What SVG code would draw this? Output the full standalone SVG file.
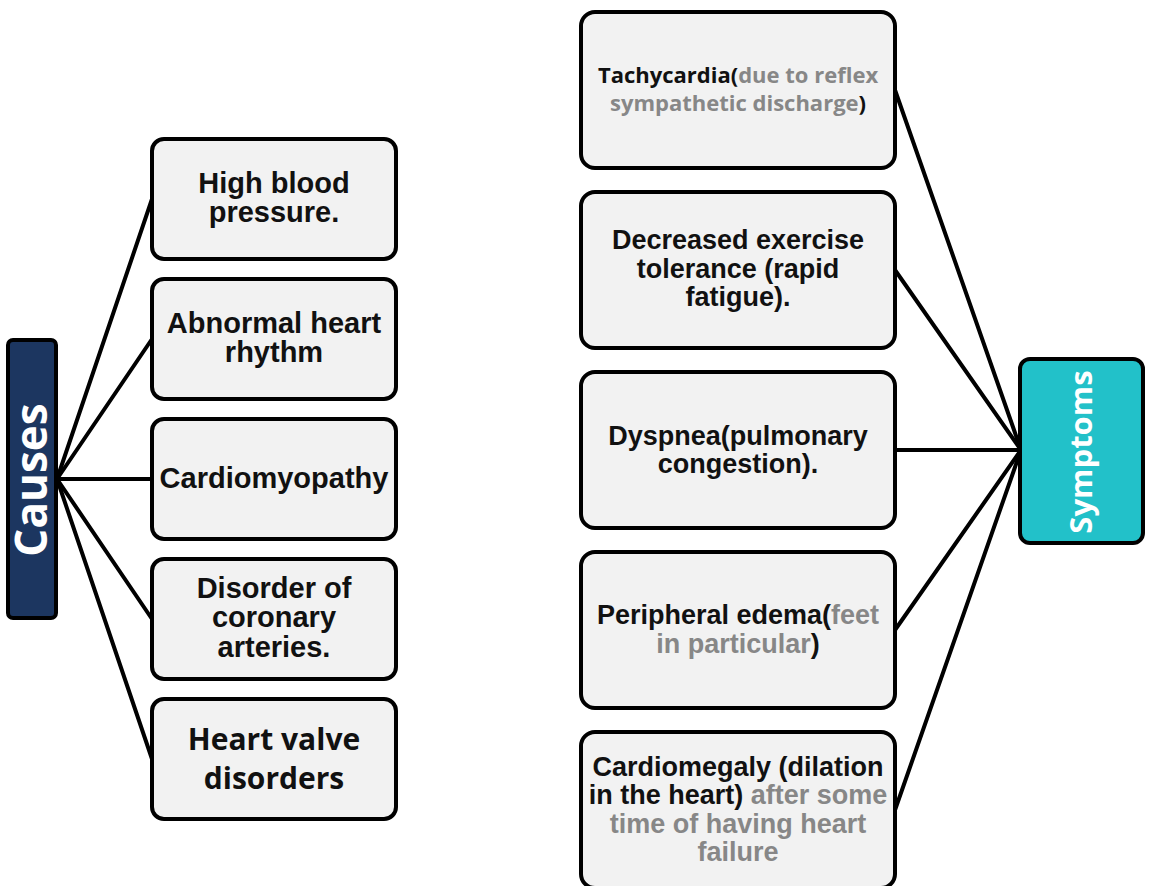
<svg xmlns="http://www.w3.org/2000/svg" width="1150" height="886" viewBox="0 0 1150 886">
<style>
.box{fill:#f2f2f2;stroke:#000;stroke-width:4}
.t{font-family:"Liberation Sans",Arial,sans-serif;font-weight:bold;font-size:27px;fill:#111;text-anchor:middle}
.l{font-size:29px}
.c{font-family:"Open Sans","Liberation Sans",sans-serif;font-weight:bold;text-anchor:middle;fill:#111}
.g{fill:#878787}
.w{fill:#fff}
.ln{stroke:#000;stroke-width:4;fill:none;stroke-linecap:round}
</style>
<rect width="1150" height="886" fill="#fff"/>
<g id="connectors" class="ln">
<line x1="57" y1="479" x2="152" y2="199"/>
<line x1="57" y1="479" x2="152" y2="339"/>
<line x1="57" y1="479" x2="152" y2="479"/>
<line x1="57" y1="479" x2="152" y2="619"/>
<line x1="57" y1="479" x2="152" y2="759"/>
<line x1="1021" y1="450" x2="895" y2="90"/>
<line x1="1021" y1="450" x2="895" y2="270"/>
<line x1="1021" y1="450" x2="895" y2="450"/>
<line x1="1021" y1="450" x2="895" y2="630"/>
<line x1="1021" y1="450" x2="895" y2="810"/>
</g>
<g id="causes">
<rect x="8" y="340" width="48" height="278" rx="5" fill="#1c3660" stroke="#000" stroke-width="4"/>
<text class="c w" font-size="44" transform="translate(47,480) rotate(-90)">Causes</text>
</g>
<g id="symptoms">
<rect x="1020" y="359" width="123" height="184" rx="10" fill="#22c1c9" stroke="#000" stroke-width="4"/>
<text class="c w" font-size="31" transform="translate(1092,452) rotate(-90)">Symptoms</text>
</g>
<g id="c1"><rect class="box" x="152" y="139" width="244" height="120" rx="12"/>
<text class="t l" x="274" y="193">High blood</text><text class="t l" x="274" y="222">pressure.</text></g>
<g id="c2"><rect class="box" x="152" y="279" width="244" height="120" rx="12"/>
<text class="t l" x="274" y="333">Abnormal heart</text><text class="t l" x="274" y="362">rhythm</text></g>
<g id="c3"><rect class="box" x="152" y="419" width="244" height="120" rx="12"/>
<text class="t l" x="274" y="488">Cardiomyopathy</text></g>
<g id="c4"><rect class="box" x="152" y="559" width="244" height="120" rx="12"/>
<text class="t l" x="274" y="598">Disorder of</text><text class="t l" x="274" y="627">coronary</text><text class="t l" x="274" y="657">arteries.</text></g>
<g id="c5"><rect class="box" x="152" y="699" width="244" height="120" rx="12"/>
<text class="c" font-size="30" x="274" y="750">Heart valve</text><text class="c" font-size="30" x="274" y="789">disorders</text></g>
<g id="s1"><rect class="box" x="581" y="12" width="314" height="156" rx="14"/>
<text class="c" font-size="22" x="738" y="83">Tachycardia(<tspan class="g">due to reflex</tspan></text>
<text class="c" font-size="22" x="738" y="111"><tspan class="g">sympathetic discharge</tspan>)</text></g>
<g id="s2"><rect class="box" x="581" y="192" width="314" height="156" rx="14"/>
<text class="t" x="738" y="249">Decreased exercise</text><text class="t" x="738" y="278">tolerance (rapid</text><text class="t" x="738" y="306">fatigue).</text></g>
<g id="s3"><rect class="box" x="581" y="372" width="314" height="156" rx="14"/>
<text class="t" x="738" y="445">Dyspnea(pulmonary</text><text class="t" x="738" y="473">congestion).</text></g>
<g id="s4"><rect class="box" x="581" y="552" width="314" height="156" rx="14"/>
<text class="t" x="738" y="624">Peripheral edema(<tspan class="g">feet</tspan></text><text class="t" x="738" y="653"><tspan class="g">in particular</tspan>)</text></g>
<g id="s5"><rect class="box" x="581" y="732" width="314" height="156" rx="14"/>
<text class="t" x="738" y="776">Cardiomegaly (dilation</text><text class="t" x="738" y="804">in the heart) <tspan class="g">after some</tspan></text><text class="t g" x="738" y="833">time of having heart</text><text class="t g" x="738" y="861">failure</text></g>
</svg>
